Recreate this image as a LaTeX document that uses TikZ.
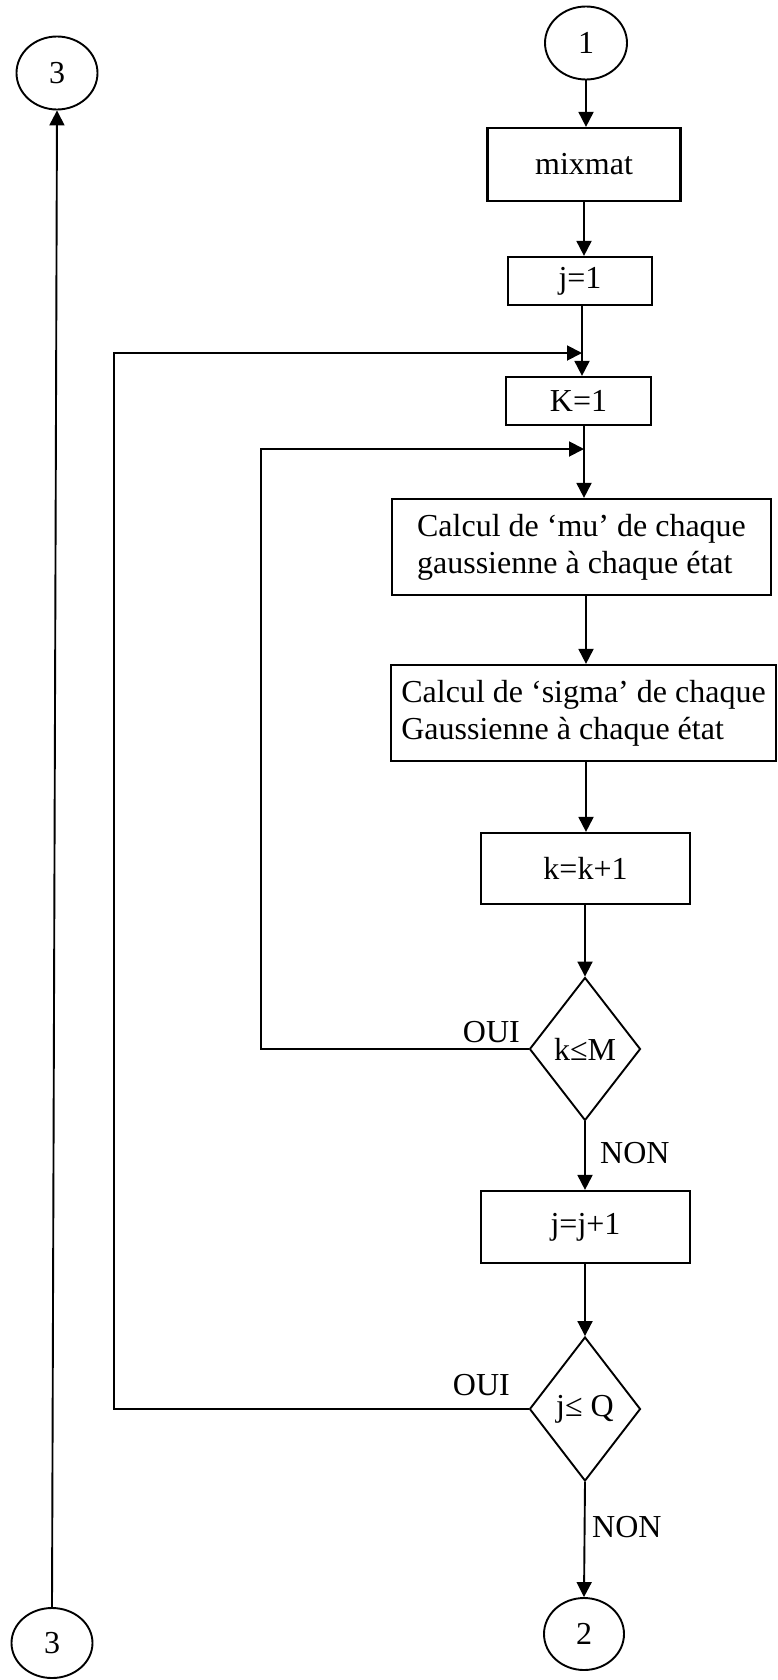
\documentclass[tikz,border=0pt]{standalone}
\usepackage{fontspec}
\setmainfont{Liberation Serif}
\usetikzlibrary{shapes.geometric,arrows.meta}
\begin{document}
\begin{tikzpicture}[x=1pt,y=-1pt,
  every node/.style={font=\fontsize{32}{37}\selectfont},
  box/.style={draw,line width=2.2pt,rectangle,inner sep=0pt},
  conn/.style={draw,ellipse,line width=1.9pt,inner sep=0pt},
  test/.style={draw,diamond,line width=1.9pt,inner sep=0pt},
  arr/.style={line width=1.9pt,-{Triangle[length=15pt,width=15pt]}},
  lbl/.style={inner sep=0pt}]
\useasboundingbox (0,0) rectangle (777,1680);

% main column
\node[conn,minimum width=82pt,minimum height=73pt] (c1) at (586,43) {1};
\node[box,minimum width=193pt,minimum height=73pt] (mix) at (584,164.5) {mixmat};
\node[box,minimum width=144pt,minimum height=48pt] (j1) at (580,281) {j=1};
\node[box,minimum width=145pt,minimum height=48pt] (k1) at (578.5,401) {K=1};
\node[box,minimum width=379pt,minimum height=96pt,align=left] (mu) at (581.5,547)
  {Calcul de ‘mu’ de chaque\\gaussienne à chaque état};
\node[box,minimum width=385pt,minimum height=96pt,align=left] (sig) at (583.5,713)
  {Calcul de ‘sigma’ de chaque\\Gaussienne à chaque état};
\node[box,minimum width=209pt,minimum height=71pt] (kk) at (585.5,868.5) {k=k+1};
\node[test,minimum width=111pt,minimum height=143pt] (dm) at (585,1049) {k≤M};
\node[box,minimum width=209pt,minimum height=72pt] (jj) at (585.5,1227) {j=j+1};
\node[test,minimum width=111pt,minimum height=144pt] (dq) at (585,1409) {j≤ Q};
\node[conn,minimum width=80pt,minimum height=72pt] (c2) at (584,1634) {2};

% off-page connectors on the left
\node[conn,minimum width=81pt,minimum height=73pt] (c3a) at (57,73) {3};
\node[conn,minimum width=81pt,minimum height=70pt] (c3b) at (52,1643) {3};

% loop junctions
\coordinate (m1) at (582,353);
\coordinate (m2) at (584,449);
\coordinate (l1) at (114,353);
\coordinate (l2) at (261,449);
\coordinate (ax) at (586,0);

% vertical flow
\draw[arr] (c1.south) -- (mix.north -| c1.south);
\draw[arr] (mix.south -| m2) -- (j1.north -| m2);
\draw[arr] (j1.south -| m1) -- (k1.north -| m1);
\draw[arr] (k1.south -| m2) -- (mu.north -| m2);
\draw[arr] (mu.south -| ax) -- (sig.north -| ax);
\draw[arr] (sig.south -| ax) -- (kk.north -| ax);
\draw[arr] (kk.south -| dm.north) -- (dm.north);
\draw[arr] (dm.south) -- (jj.north -| dm.south);
\draw[arr] (jj.south -| dq.north) -- (dq.north);
\draw[arr] (dq.south) -- (c2.north);

% loops back
\draw[arr] (dm.west) -| (l2) -- (m2);
\draw[arr] (dq.west) -| (l1) -- (m1);

% link between the two connectors 3
\draw[arr] (c3b.north) -- (c3a.south);

% branch labels
\node[lbl,anchor=base east] (oui1) at (520,1042) {OUI};
\node[lbl,anchor=base west] (non1) at (600,1163) {NON};
\node[lbl,anchor=base east] (oui2) at (510,1395) {OUI};
\node[lbl,anchor=base west] (non2) at (592,1537) {NON};
\end{tikzpicture}
\end{document}
